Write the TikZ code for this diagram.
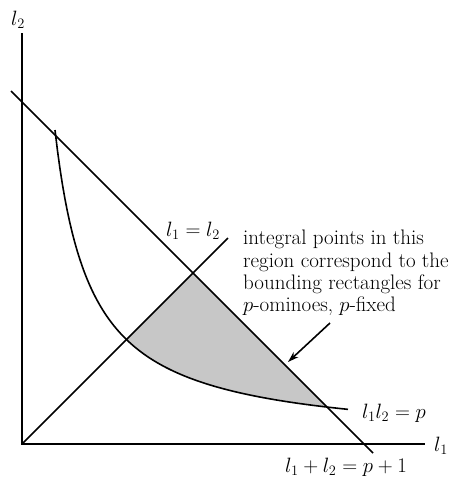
\documentclass[tikz,border=0pt]{standalone}
\usetikzlibrary{arrows.meta}
\begin{document}
\begin{tikzpicture}[x=1pt,y=-1pt,
  ln/.style={line width=1.6pt,black},
  lbl/.style={inner sep=0pt,font=\fontsize{20}{22}\selectfont},
  txt/.style={inner sep=0pt,align=left,font=\fontsize{21}{22.3}\selectfont}]
\useasboundingbox (0,0) rectangle (462,480);
% coordinates
\coordinate (O) at (22,444);
\coordinate (ytop) at (22,33);
\coordinate (xend) at (425,444);
\coordinate (a1) at (11,91);
\coordinate (a2) at (373,453);
\coordinate (d2) at (228,238);
\coordinate (apex) at (193,273);
\coordinate (xint) at (364,444);
% shaded region
\begin{scope}
  \clip (O) -- (apex) -- (xint) -- cycle;
  \fill[black!22] plot[domain=33:326,samples=120] ({22+\x},{443-11047/(\x+2.3)}) -- (348,0) -- (0,0) -- cycle;
\end{scope}
% axes
\draw[ln] (ytop) -- (O) -- (xend);
% lines
\draw[ln] (a1) -- (a2);
\draw[ln] (O) -- (d2);
\draw[ln] plot[domain=33:326,samples=120] ({22+\x},{443-11047/(\x+2.3)});
% labels
\node[lbl] (l2) at (18,20) {$l_2$};
\node[lbl] (l1) at (441,446) {$l_1$};
\node[lbl] (eq) at (193,231) {$l_1 = l_2$};
\node[lbl] (hyp) at (394,413) {$l_1 l_2 = p$};
\node[lbl] (sum) at (346,467) {$l_1 + l_2 = p + 1$};
\node[txt,anchor=north west] (note) at (243,230) {integral points in this\\region correspond to the\\bounding rectangles for\\$p$-ominoes, $p$-fixed};
\coordinate (tip) at (288,362);
\draw[line width=1.6pt,-{Stealth[length=11pt,width=7pt]}] (330,323) -- (tip);
\end{tikzpicture}
\end{document}
